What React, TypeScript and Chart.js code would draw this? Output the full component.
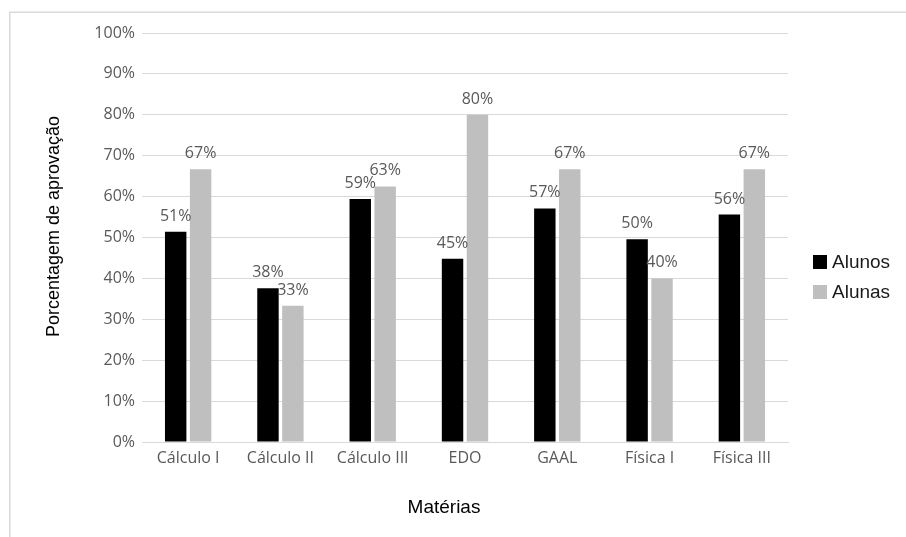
import React, { useEffect, useRef } from "react";
import { Chart, registerables } from "chart.js";

Chart.register(...registerables);

const categories = ["Cálculo I", "Cálculo II", "Cálculo III", "EDO", "GAAL", "Física I", "Física III"];
const alunos = [51.4, 37.6, 59.4, 44.8, 57.1, 49.6, 55.6];
const alunas = [66.7, 33.3, 62.5, 80.0, 66.7, 40.0, 66.7];
const seriesNames = ["Alunos", "Alunas"];
const seriesColors = ["#000000", "#bfbfbf"];
const yTitle = "Porcentagem de aprovação";
const xTitle = "Matérias";

const LABEL_FONT = "16px 'Open Sans', sans-serif";
const TITLE_FONT = "Liberation Sans, Arial, sans-serif";

// Outer frame, value labels, axis titles and legend drawn on the canvas
const decorations = {
  id: "decorations",
  beforeDraw(chart: any) {
    const ctx = chart.ctx;
    ctx.save();
    ctx.fillStyle = "#ffffff";
    ctx.fillRect(0, 0, chart.width, chart.height);
    ctx.strokeStyle = "#d9d9d9";
    ctx.lineWidth = 1.5;
    ctx.strokeRect(9.75, 12.25, chart.width + 20, chart.height + 20);
    ctx.restore();
  },
  afterDatasetsDraw(chart: any) {
    const ctx = chart.ctx;
    ctx.save();
    ctx.font = LABEL_FONT;
    ctx.fillStyle = "#595959";
    ctx.textAlign = "center";
    ctx.textBaseline = "alphabetic";
    chart.data.datasets.forEach((ds: any, i: number) => {
      const meta = chart.getDatasetMeta(i);
      meta.data.forEach((bar: any, j: number) => {
        ctx.fillText(Math.round(ds.data[j]) + "%", bar.x, bar.y - 11);
      });
    });
    ctx.restore();
  },
  afterDraw(chart: any) {
    const ctx = chart.ctx;
    const area = chart.chartArea;
    ctx.save();
    ctx.fillStyle = "#000000";
    ctx.textAlign = "center";
    ctx.textBaseline = "middle";

    // y axis title
    ctx.font = `18px ${TITLE_FONT}`;
    ctx.save();
    ctx.translate(area.left - 88, (area.top + area.bottom) / 2 - 11);
    ctx.rotate(-Math.PI / 2);
    ctx.fillText(yTitle, 0, 0);
    ctx.restore();

    // x axis title
    ctx.font = `19px ${TITLE_FONT}`;
    ctx.fillText(xTitle, (area.left - 42 + area.right) / 2, area.bottom + 66);

    // legend
    const lx = area.right + 25;
    const ly = 262;
    chart.data.datasets.forEach((ds: any, i: number) => {
      const cy = ly + i * 30;
      ctx.fillStyle = ds.backgroundColor;
      ctx.fillRect(lx, cy - 7, 14, 14);
      ctx.fillStyle = "#1a1a1a";
      ctx.textAlign = "left";
      ctx.font = `19px ${TITLE_FONT}`;
      ctx.fillText(ds.label, lx + 19, cy + 1);
    });
    ctx.restore();
  },
};

export default function App() {
  const ref = useRef<HTMLCanvasElement | null>(null);

  useEffect(() => {
    if (!ref.current) return;
    const chart = new Chart(ref.current, {
      type: "bar",
      data: {
        labels: categories,
        datasets: [
          { label: seriesNames[0], data: alunos, backgroundColor: seriesColors[0] },
          { label: seriesNames[1], data: alunas, backgroundColor: seriesColors[1] },
        ],
      },
      options: {
        responsive: false,
        animation: false,
        devicePixelRatio: 1,
        layout: { padding: { left: 90, top: 33, right: 118, bottom: 65 } },
        datasets: { bar: { categoryPercentage: 0.54, barPercentage: 0.86 } },
        plugins: {
          legend: { display: false },
          tooltip: { enabled: false },
          title: { display: false },
        },
        scales: {
          x: {
            grid: { display: false, drawTicks: false },
            border: { display: true, color: "#d9d9d9", width: 1 },
            ticks: {
              color: "#595959",
              font: { family: "'Open Sans', sans-serif", size: 16 },
              padding: 7,
              maxRotation: 0,
              autoSkip: false,
            },
            afterFit(scale: any) {
              scale.height = 30;
            },
          },
          y: {
            min: 0,
            max: 100,
            grid: { color: "#d9d9d9", drawTicks: false, lineWidth: 1 },
            border: { display: false },
            ticks: {
              stepSize: 10,
              color: "#595959",
              font: { family: "'Open Sans', sans-serif", size: 16 },
              padding: 7,
              callback: (v: any) => v + "%",
            },
            afterFit(scale: any) {
              scale.width = 52;
            },
          },
        },
      },
      plugins: [decorations],
    });
    return () => chart.destroy();
  }, []);

  return (
    <div style={{ position: "absolute", left: 0, top: 0, width: 906, height: 537 }}>
      <canvas ref={ref} width={906} height={537} />
    </div>
  );
}
